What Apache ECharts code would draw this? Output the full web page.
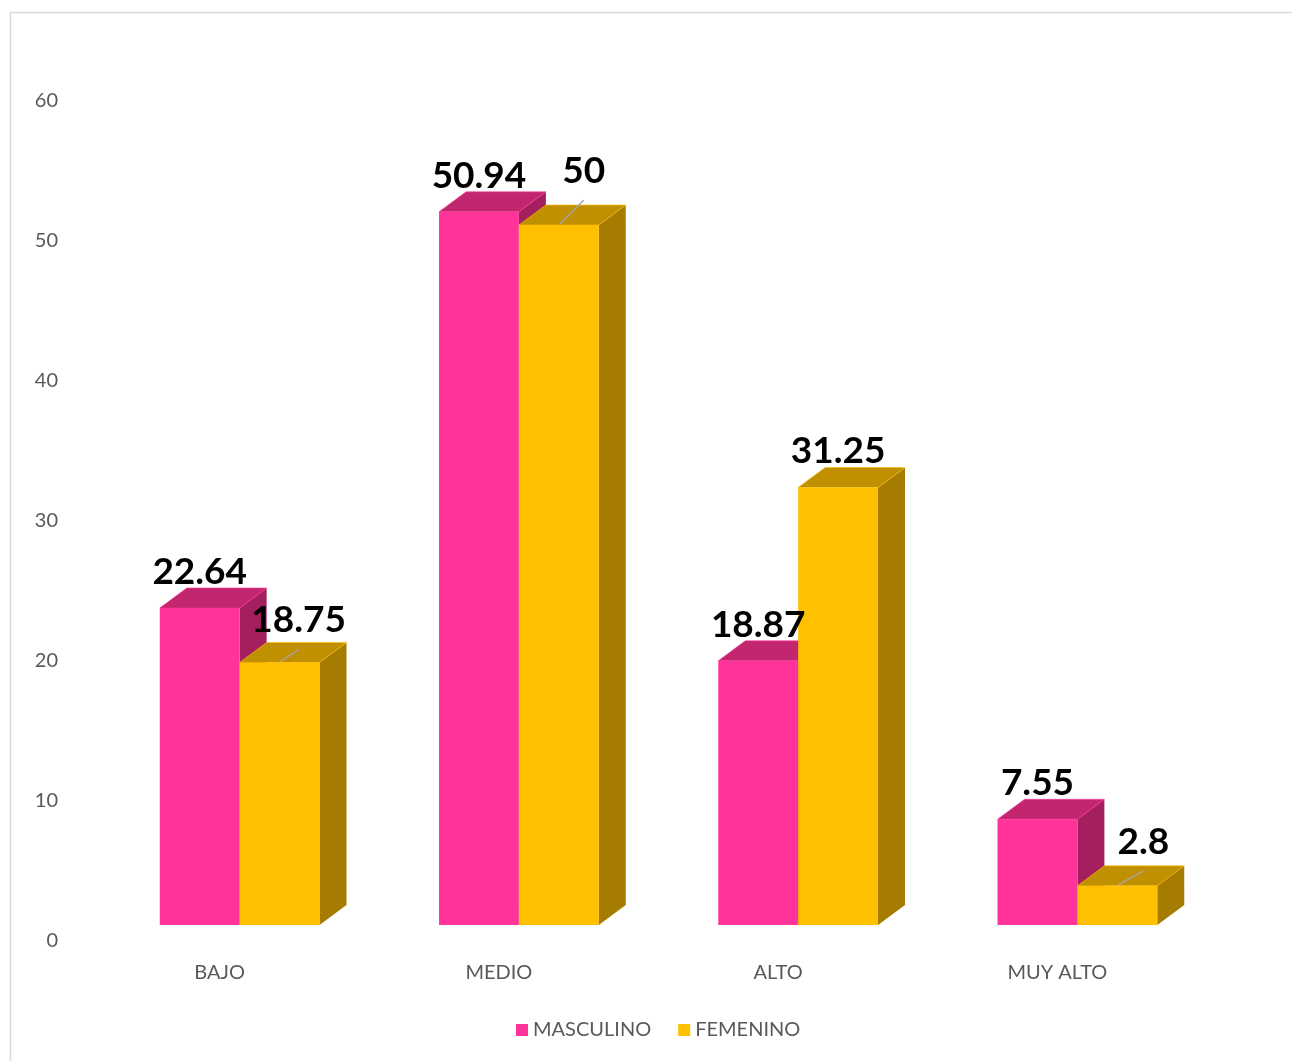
<!DOCTYPE html>
<html>
<head>
<meta charset="utf-8">
<script src="https://cdn.jsdelivr.net/npm/echarts@6/dist/echarts.min.js"></script>
<style>
    html, body { margin: 0; padding: 0; background: #fff; }
    #main { width: 1292px; height: 1061px; }
</style>
</head>
<body>
<div id="main"></div>
<script>
// 数据
var categories = ['BAJO', 'MEDIO', 'ALTO', 'MUY ALTO'];
var masculino = [22.64, 50.94, 18.87, 7.55];
var femenino = [18.75, 50, 31.25, 2.8];
var yMin = 0, yMax = 60, yStep = 10;

// 颜色: 正面 / 顶面 / 侧面
var pinkFaces = ['#FF3399', '#C2266F', '#A31F5E'];
var goldFaces = ['#FFC000', '#C09000', '#A67C00'];

// 标签微调 (像 Excel 里手动拖过的数据标签)
var pinkNudge = [[0, -36], [0, -36], [0, -36], [0, -36]];
var goldNudge = [[19, -42], [25, -54], [0, -36], [26, -44]];

var myChart = echarts.init(document.getElementById('main'));

// 计算一根柱子的几何位置
function geom(params, api, side) {
    var band = api.size([1, 0])[0];
    var w = band * 0.286;
    var c = api.coord([api.value(0), api.value(1)]);
    var base = api.coord([api.value(0), 0]);
    var x0 = c[0] + band * 0.0717 + (side === 0 ? -w : 0);
    return { x0: x0, x1: x0 + w, w: w, top: c[1] - 16, bot: base[1] - 16 };
}

// 立体柱子 (正面 + 顶面 + 侧面)
function bar3d(faces, side) {
    return function (params, api) {
        var g = geom(params, api, side);
        var dx = 27, dy = -20;
        return {
            type: 'group',
            children: [{
                type: 'polygon',
                shape: { points: [[g.x1, g.top], [g.x1 + dx, g.top + dy], [g.x1 + dx, g.bot + dy], [g.x1, g.bot]] },
                style: { fill: faces[2] }
            }, {
                type: 'polygon',
                shape: { points: [[g.x0, g.top], [g.x1, g.top], [g.x1 + dx, g.top + dy], [g.x0 + dx, g.top + dy]] },
                style: { fill: faces[1], stroke: faces[0], lineWidth: 0.6 }
            }, {
                type: 'rect',
                shape: { x: g.x0, y: g.top, width: g.w, height: g.bot - g.top },
                style: { fill: faces[0] }
            }]
        };
    };
}

// 数据标签 (放在最上层)
function label3d(side, nudge) {
    return function (params, api) {
        var g = geom(params, api, side);
        var n = nudge[params.dataIndex];
        var cx = (g.x0 + g.x1) / 2;
        var children = [];
        if (n[0] !== 0) {
            children.push({
                type: 'line',
                shape: { x1: cx + 1, y1: g.top - 1, x2: cx + n[0], y2: g.top + n[1] + 29 },
                style: { stroke: '#A6A6A6', lineWidth: 1.5 }
            });
        }
        children.push({
            type: 'text',
            x: cx + n[0],
            y: g.top + n[1],
            style: {
                text: String(api.value(1)),
                fill: '#000',
                font: 'bold 37px Lato',
                align: 'center',
                verticalAlign: 'middle'
            }
        });
        return { type: 'group', children: children };
    };
}

var pinkData = categories.map(function (c, i) { return [i, masculino[i]]; });
var goldData = categories.map(function (c, i) { return [i, femenino[i]]; });

var option = {
    backgroundColor: '#fff',
    animation: false,
    graphic: [{
        type: 'rect',
        shape: { x: 10.5, y: 12.5, width: 1400, height: 1200 },
        style: { fill: 'none', stroke: '#D9D9D9', lineWidth: 1.5 },
        silent: true
    }],
    legend: {
        left: 511,
        top: 1015,
        icon: 'rect',
        itemWidth: 12,
        itemHeight: 12,
        itemGap: 27,
        textStyle: { fontFamily: 'Lato', fontSize: 20, color: '#595959' },
        data: ['MASCULINO', 'FEMENINO']
    },
    grid: { left: 80, right: 95, top: 101, bottom: 120 },
    xAxis: {
        type: 'category',
        data: categories,
        axisLine: { show: false },
        axisTick: { show: false },
        axisLabel: { margin: 22, fontFamily: 'Lato', fontSize: 20, color: '#595959' }
    },
    yAxis: {
        type: 'value',
        min: yMin,
        max: yMax,
        interval: yStep,
        splitLine: { show: false },
        axisLine: { show: false },
        axisTick: { show: false },
        axisLabel: { margin: 22, padding: [4, 0, 0, 0], fontFamily: 'Lato', fontSize: 20, color: '#595959' }
    },
    series: [{
        name: 'MASCULINO',
        type: 'custom',
        itemStyle: { color: pinkFaces[0] },
        renderItem: bar3d(pinkFaces, 0),
        encode: { x: 0, y: 1 },
        data: pinkData,
        z: 2
    }, {
        name: 'FEMENINO',
        type: 'custom',
        itemStyle: { color: goldFaces[0] },
        renderItem: bar3d(goldFaces, 1),
        encode: { x: 0, y: 1 },
        data: goldData,
        z: 3
    }, {
        name: 'labelM',
        type: 'custom',
        renderItem: label3d(0, pinkNudge),
        encode: { x: 0, y: 1 },
        data: pinkData,
        silent: true,
        z: 5
    }, {
        name: 'labelF',
        type: 'custom',
        renderItem: label3d(1, goldNudge),
        encode: { x: 0, y: 1 },
        data: goldData,
        silent: true,
        z: 5
    }]
};

myChart.setOption(option);
</script>
</body>
</html>
